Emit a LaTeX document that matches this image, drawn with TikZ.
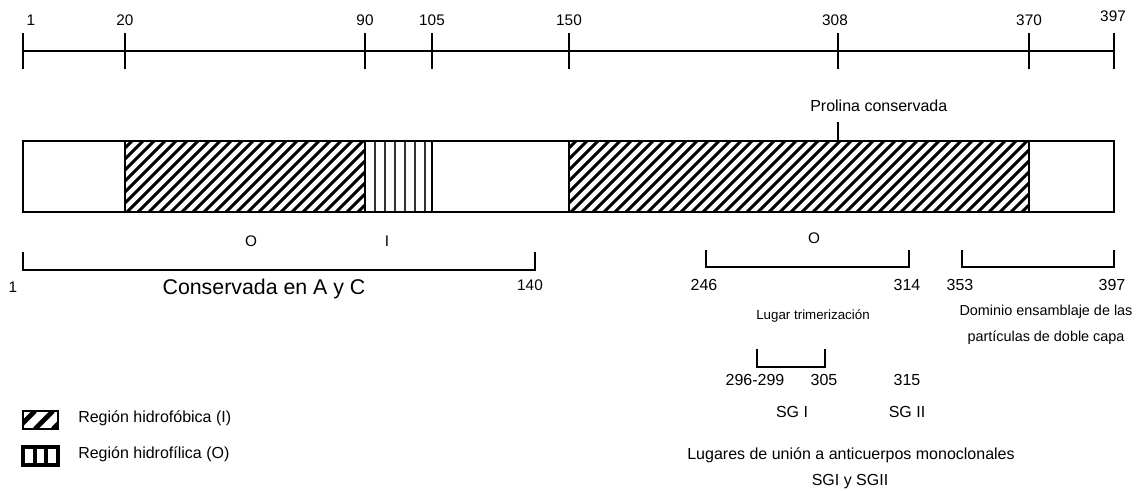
\documentclass[tikz,border=0pt]{standalone}
\usepackage{fontspec}
\setmainfont{Liberation Sans}
\usepackage{tikz}
\usetikzlibrary{positioning}

\begin{document}
\begin{tikzpicture}[x=0.75pt, y=-0.75pt,
    rule/.style={line width=1.5pt},
    brk/.style={line width=1.1pt},
    hatch/.style={line width=2.3pt},
    vstripe/.style={line width=1.1pt, black!80},
    numlbl/.style={font=\fontsize{11.5}{13}\selectfont, inner sep=0pt},
    poslbl/.style={font=\fontsize{12}{14}\selectfont, inner sep=0pt},
    smlbl/.style={font=\fontsize{10}{12}\selectfont, inner sep=0pt},
    domlbl/.style={font=\fontsize{10.8}{13}\selectfont, inner sep=0pt},
    biglbl/.style={font=\fontsize{16}{19}\selectfont, inner sep=0pt}
]
\useasboundingbox (0,0) rectangle (1141,490);

% Ruler
\coordinate (rs) at (23,51);
\coordinate (re) at (1114,51);
\draw[rule] (rs) -- (re);
\foreach \px/\n in {23/1,125/20,365/90,432/105,569/150,838/308,1029/370,1114/397}{
  \coordinate (t\n a) at (\px,33);
  \coordinate (t\n b) at (\px,69);
  \draw[rule] (t\n a) -- (t\n b);
}
\node[numlbl] (l1) at (31,20) {1};
\foreach \px/\n in {125/20,365/90,432/105,569/150,835/308,1029/370}
  \node[numlbl] (l\n) at (\px,20) {\n};
\node[numlbl] (l397) at (1113,16) {397};

% Hatched regions
\begin{scope}
  \clip (125,141) rectangle (365,212);
  \foreach \x in {50,61,...,370}
    \draw[hatch] (\x,212) -- ++(71,-71);
\end{scope}
\begin{scope}
  \clip (569,141) rectangle (1029,212);
  \foreach \x in {494,505,...,1034}
    \draw[hatch] (\x,212) -- ++(71,-71);
\end{scope}
\foreach \x in {375,385,...,425}
  \draw[vstripe] (\x,141) -- (\x,212);

% Bar
\coordinate (bnw) at (23,141);
\coordinate (bse) at (1114,212);
\draw[rule] (bnw) rectangle (bse);
\foreach \x in {125,365,432,569,1029}{
  \coordinate (s\x t) at (\x,141);
  \coordinate (s\x b) at (\x,212);
  \draw[rule] (s\x t) -- (s\x b);
}

% Conserved proline
\coordinate (pro) at (838,122);
\draw[brk] (pro) -- (s569t -| pro);
\node[poslbl, anchor=west] (prolbl) at (810,106) {Prolina conservada};

% Region labels
\node[numlbl] (o1) at (251,241) {O};
\node[numlbl] (i1) at (387,241) {I};
\node[numlbl] (o2) at (814,238) {O};

% Bracket 1-140
\coordinate (b1a) at (23,252);
\coordinate (b1b) at (23,270);
\coordinate (b1c) at (535,270);
\coordinate (b1d) at (535,252);
\draw[brk] (b1a) -- (b1b) -- (b1c) -- (b1d);
\node[numlbl] (n1) at (13,287) {1};
\node[numlbl] (n140) at (530,285) {140};
\node[biglbl] (cons) at (264,289) {Conservada en A y C};

% Bracket 246-314
\coordinate (b2a) at (706,250);
\coordinate (b2b) at (706,267);
\coordinate (b2c) at (909,267);
\coordinate (b2d) at (909,250);
\draw[brk] (b2a) -- (b2b) -- (b2c) -- (b2d);
\node[poslbl] (n246) at (704,285) {246};
\node[poslbl] (n314) at (907,285) {314};
\node[smlbl] (trim) at (813,316) {Lugar trimerización};

% Bracket 353-397
\coordinate (b3a) at (962,250);
\coordinate (b3b) at (962,267);
\coordinate (b3c) at (1114,267);
\coordinate (b3d) at (1114,250);
\draw[brk] (b3a) -- (b3b) -- (b3c) -- (b3d);
\node[poslbl] (n353) at (960,285) {353};
\node[poslbl] (n397) at (1112,285) {397};
\node[domlbl] (dom1) at (1046,312) {Dominio ensamblaje de las};
\node[domlbl] (dom2) at (1046,338) {partículas de doble capa};

% Antibody sites
\coordinate (b4a) at (757,349);
\coordinate (b4b) at (757,367);
\coordinate (b4c) at (825,367);
\coordinate (b4d) at (825,349);
\draw[brk] (b4a) -- (b4b) -- (b4c) -- (b4d);
\node[poslbl] (n296) at (755,380) {296-299};
\node[poslbl] (n305) at (824,380) {305};
\node[poslbl] (n315) at (907,380) {315};
\node[poslbl] (sg1) at (792,412) {SG I};
\node[poslbl] (sg2) at (907,412) {SG II};
\node[poslbl] (mab1) at (851,455) {Lugares de unión a anticuerpos monoclonales};
\node[poslbl] (mab2) at (850,482) {SGI y SGII};

% Legend
\begin{scope}
  \clip (23,411) rectangle (58,429);
  \foreach \x in {17,35,53}
    \draw[line width=3.6pt] (\x,429) -- ++(18,-18);
\end{scope}
\coordinate (lg1a) at (23,411);
\coordinate (lg1b) at (58,429);
\draw[line width=2pt] (lg1a) rectangle (lg1b);
\node[poslbl, anchor=west] (lg1t) at (78,418) {Región hidrofóbica (I)};

\coordinate (lg2a) at (23,447);
\coordinate (lg2b) at (58,465);
\draw[line width=2.4pt] (lg2a) rectangle (lg2b);
\foreach \x in {35,46}{
  \coordinate (lv\x a) at (\x,447);
  \coordinate (lv\x b) at (\x,465);
  \draw[line width=2.4pt] (lv\x a) -- (lv\x b);
}
\node[poslbl, anchor=west] (lg2t) at (78,454) {Región hidrofílica (O)};

\end{tikzpicture}
\end{document}
